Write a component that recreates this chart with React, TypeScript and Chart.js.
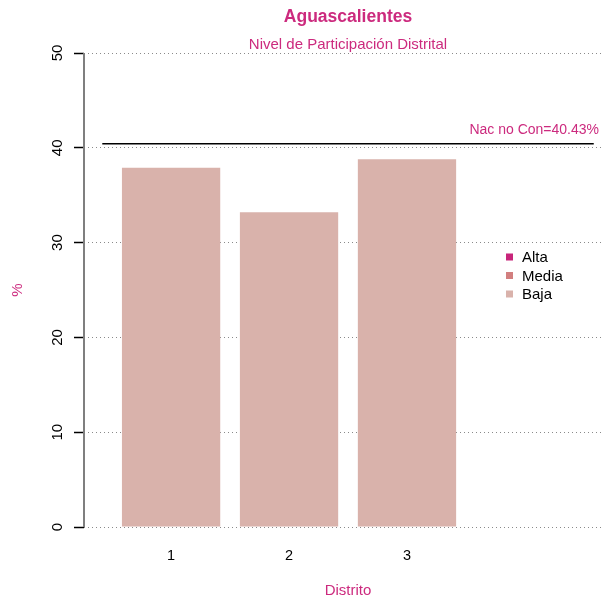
import React, { useEffect, useRef } from "react";
import { Chart, registerables } from "chart.js";

Chart.register(...registerables);

const title = "Aguascalientes";
const subtitle = "Nivel de Participación Distrital";
const districts = ["1", "2", "3"];
const participation = [37.9, 33.2, 38.8];
const nationalRef = 40.43;
const nationalLabel = "Nac no Con=40.43%";
const yTicks = [0, 10, 20, 30, 40, 50];
const legendLabels = ["Alta", "Media", "Baja"];
const legendColors = ["#C8257B", "#D27F7F", "#D9B2AB"];
const xTitle = "Distrito";
const yTitle = "%";

const MAG = "#CC2A7E";
const FONT = "'Liberation Sans', Arial, Helvetica, sans-serif";

export default function App() {
  const ref = useRef<HTMLCanvasElement | null>(null);

  useEffect(() => {
    const canvas = ref.current;
    if (!canvas) return;
    const barPos = districts.map((_, i) => 0.7 + 1.2 * i);

    const overlay = {
      id: "overlay",
      afterDraw(chart: any) {
        const ctx = chart.ctx;
        const ys = chart.scales.y;
        const area = chart.chartArea;
        ctx.save();
        // y axis line
        ctx.strokeStyle = "#7f7f7f";
        ctx.lineWidth = 2;
        ctx.beginPath();
        ctx.moveTo(area.left, ys.getPixelForValue(50));
        ctx.lineTo(area.left, ys.getPixelForValue(0));
        ctx.stroke();
        // y tick labels rotated
        ctx.fillStyle = "#000";
        ctx.font = `15px ${FONT}`;
        ctx.textAlign = "center";
        ctx.textBaseline = "middle";
        yTicks.forEach((v) => {
          ctx.save();
          ctx.translate(58, ys.getPixelForValue(v));
          ctx.rotate(-Math.PI / 2);
          ctx.fillText(String(v), 0, 0);
          ctx.restore();
        });
        const cx = 348;
        ctx.fillStyle = MAG;
        ctx.font = `bold 17.5px ${FONT}`;
        ctx.fillText(title, cx, 17);
        ctx.font = `15px ${FONT}`;
        ctx.fillText(subtitle, cx, 45);
        ctx.fillText(xTitle, cx, 591);
        ctx.save();
        ctx.translate(18, 290);
        ctx.rotate(-Math.PI / 2);
        ctx.fillText(yTitle, 0, 0);
        ctx.restore();
        // reference label
        ctx.font = `14px ${FONT}`;
        ctx.textAlign = "right";
        ctx.fillText(nationalLabel, 599, ys.getPixelForValue(nationalRef) - 14);
        // legend
        ctx.textAlign = "left";
        ctx.font = `15px ${FONT}`;
        legendLabels.forEach((lab, i) => {
          const yy = 257 + i * 18.5;
          ctx.fillStyle = legendColors[i];
          ctx.fillRect(506, yy - 3.5, 7, 7);
          ctx.fillStyle = "#000";
          ctx.fillText(lab, 522, yy + 1);
        });
        ctx.restore();
      },
    };

    const chart = new Chart(canvas, {
      type: "bar",
      data: {
        datasets: [
          {
            type: "bar",
            data: districts.map((_, i) => ({ x: barPos[i], y: participation[i] })),
            backgroundColor: legendColors[2],
            borderWidth: 0,
            barPercentage: 1 / 1.2,
            categoryPercentage: 1,
            order: 2,
          } as any,
          {
            type: "line",
            data: [
              { x: 0, y: nationalRef },
              { x: 5, y: nationalRef },
            ],
            borderColor: "#000",
            borderWidth: 1.5,
            pointRadius: 0,
            order: 1,
          } as any,
        ],
      },
      options: {
        responsive: false,
        animation: false,
        layout: { padding: { top: 53, right: 0, left: 0, bottom: 0 } },
        plugins: { legend: { display: false }, tooltip: { enabled: false }, title: { display: false } },
        scales: {
          x: {
            type: "linear",
            offset: false,
            min: -0.186,
            max: 5.084,
            grid: { display: false, drawTicks: false },
            border: { display: false },
            afterBuildTicks: (s: any) => {
              s.ticks = barPos.map((v) => ({ value: v }));
            },
            afterFit: (s: any) => {
              s.height = 74;
            },
            ticks: {
              autoSkip: false,
              maxRotation: 0,
              padding: 20,
              color: "#000",
              font: { size: 14.5, family: FONT },
              callback: (_v: any, i: number) => districts[i],
            },
          },
          y: {
            type: "linear",
            min: 0,
            max: 50,
            afterBuildTicks: (s: any) => {
              s.ticks = yTicks.map((v) => ({ value: v }));
            },
            afterFit: (s: any) => {
              s.width = 84;
            },
            ticks: { display: false },
            grid: {
              color: "#8a8a8a",
              lineWidth: 1,
              tickColor: "#000",
              tickLength: 10,
              tickWidth: 1.5,
              tickBorderDash: [],
            },
            border: { display: false, dash: [1, 3] },
          },
        },
      },
      plugins: [overlay],
    } as any);
    return () => chart.destroy();
  }, []);

  return (
    <div style={{ position: "absolute", left: 0, top: 0, width: 602, height: 601, background: "#fff" }}>
      <canvas ref={ref} width={602} height={601} />
    </div>
  );
}
